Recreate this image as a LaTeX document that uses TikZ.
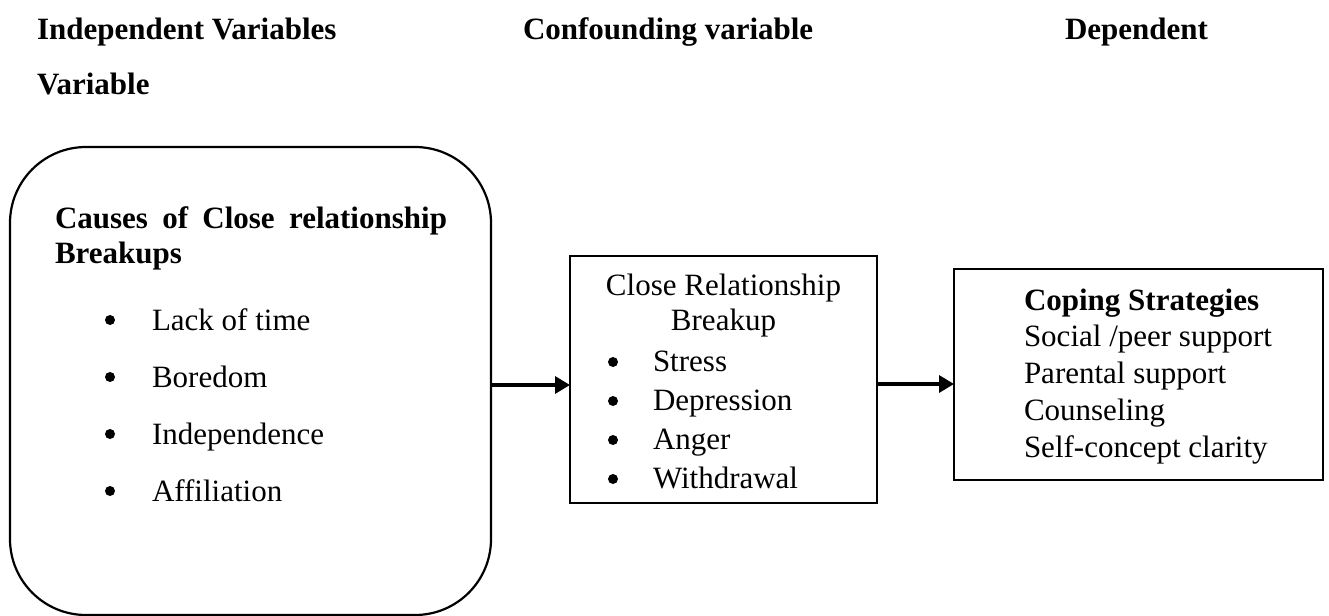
\documentclass[tikz,border=0pt]{standalone}
\usepackage{fontspec}
\setmainfont{Liberation Serif}
\usetikzlibrary{positioning,arrows.meta}

\begin{document}
\begin{tikzpicture}[x=0.5pt, y=-0.5pt,
        every node/.style = {inner sep=0pt, outer sep=0pt, font=\fontsize{15.5}{18}\selectfont},
    ]
    \tikzstyle{headtext} = [anchor=base west, font=\fontsize{15.5}{18}\selectfont\bfseries];
    \tikzstyle{itemtext} = [anchor=base west];
    \tikzstyle{bulletmark} = [circle, fill=black, minimum size=5pt];
    \tikzstyle{causebox} = [draw=black, line width=1.1pt, rounded corners=38pt];
    \tikzstyle{plainbox} = [draw=black, line width=1.1pt];
    \tikzstyle{flow} = [line width=1.7pt, -{Triangle[length=7.5pt,width=8.5pt]}];

    \useasboundingbox (0,0) rectangle (1329,616);

    % column headings
    \node [headtext] (indep) at (37,39) {Independent Variables};
    \node [headtext] (conf) at (523,39) {Confounding variable};
    \node [headtext] (dep) at (1065,39) {Dependent};
    \node [headtext] (depvar) at (37,94) {Variable};

    % boxes
    \node [causebox, minimum width=240.5pt, minimum height=234pt] (causes) at (250.5,381) {};
    \node [plainbox, minimum width=153.5pt, minimum height=123.5pt] (breakup) at (723.5,379.5) {};
    \node [plainbox, minimum width=184.5pt, minimum height=105.5pt] (coping) at (1138.5,374.5) {};

    % causes
    \node [headtext] (ctitle) at (55,228) {\makebox[196pt][s]{Causes of Close relationship}};
    \node [headtext, below = 17.5pt of ctitle.base west, anchor=base west] (ctitle2) {Breakups};
    \foreach \cause [count=\i] in {Lack of time, Boredom, Independence, Affiliation} {
        \node [bulletmark] (cb\i) at (110,263+57*\i) {};
        \node [itemtext] (ct\i) at (152,273+57*\i) {\cause};
    }

    % confounding
    \node [anchor=base] (btitle) at (723.5,295) {Close Relationship};
    \node [below = 17.5pt of btitle.base, anchor=base] (btitle2) {Breakup};
    \foreach \effect [count=\i] in {Stress, Depression, Anger, Withdrawal} {
        \node [bulletmark] (bb\i) at (613,323+39*\i) {};
        \node [itemtext] (bt\i) at (653,332+39*\i) {\effect};
    }

    % coping
    \node [headtext] (ptitle) at (1024,310) {Coping Strategies};
    \foreach \way [count=\i] in {Social /peer support, Parental support, Counseling, Self-concept clarity} {
        \node [itemtext] (pt\i) at (1024,310+36.75*\i) {\way};
    }

    % arrows
    \coordinate (a1) at ([yshift=-2.75pt]breakup.west);
    \coordinate (a2) at ([yshift=-4.75pt]coping.west);
    \draw [flow] (a1 -| causes.east) -- (a1);
    \draw [flow] (a2 -| breakup.east) -- (a2);
\end{tikzpicture}
\end{document}
